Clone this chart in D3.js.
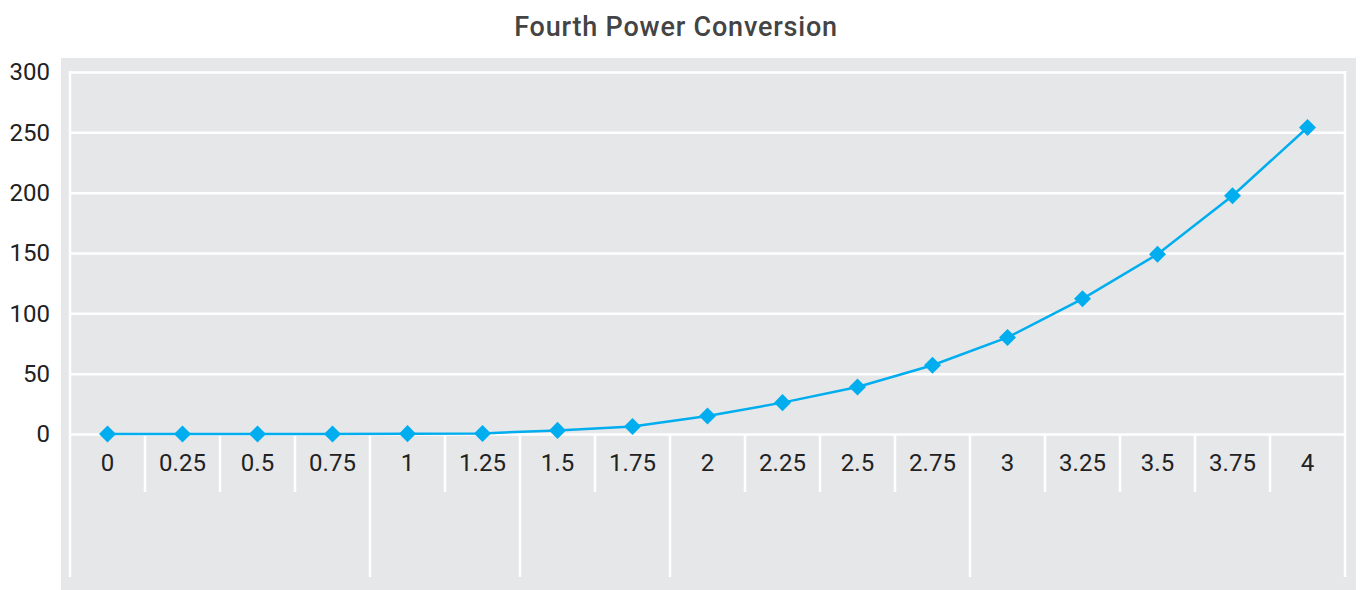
<!DOCTYPE html>
<html>
<head>
<meta charset="utf-8">
<script src="https://cdn.jsdelivr.net/npm/d3@7"></script>
<style>
  body { margin: 0; background: #fff; }
  text { font-family: Roboto, "Noto Sans", sans-serif; }
</style>
</head>
<body>
<div id="chart"></div>
<script>
// Chart values
const categories = ['0', '0.25', '0.5', '0.75', '1', '1.25', '1.5', '1.75', '2',
  '2.25', '2.5', '2.75', '3', '3.25', '3.5', '3.75', '4'];
const values = [0, 0, 0, 0, 0.3, 0.5, 3, 6.3, 15, 26, 39, 57, 80, 112, 149, 197.5, 254];
const yTicks = [0, 50, 100, 150, 200, 250, 300];
// second level category groups (blank labels), given as first category of each group
const groupStarts = ['0', '1', '1.5', '2', '3'];
const title = 'Fourth Power Conversion';

const width = 1360;
const height = 590;
const plot = {left: 70, right: 1345, top: 72, bottom: 434};
const axisRow1 = 492;   // bottom of the first level of the category axis
const axisRow2 = 577;   // bottom of the second level

const BG = '#e6e7e9';
const LINE = '#00aeef';

const svg = d3.select('#chart')
  .append('svg')
  .attr('width', width)
  .attr('height', height);

// title
svg.append('text')
  .attr('x', 676)
  .attr('y', 36)
  .attr('text-anchor', 'middle')
  .attr('font-size', 27)
  .attr('font-weight', 500)
  .attr('letter-spacing', 0.8)
  .attr('fill', '#444')
  .text(title);

// grey chart panel
svg.append('rect')
  .attr('x', 61)
  .attr('y', 58)
  .attr('width', 1295)
  .attr('height', 532)
  .attr('fill', BG);

const x = d3.scaleBand()
  .domain(categories)
  .range([plot.left, plot.right])
  .padding(0);

const y = d3.scaleLinear()
  .domain([0, 300])
  .range([plot.bottom, plot.top]);

// horizontal gridlines + y labels
const yAxis = d3.axisLeft(y)
  .tickValues(yTicks)
  .tickSize(-(plot.right - plot.left))
  .tickPadding(20);

svg.append('g')
  .attr('transform', `translate(${plot.left},0)`)
  .call(yAxis)
  .call(g => g.select('.domain').remove())
  .call(g => g.selectAll('.tick line')
    .attr('stroke', '#fff')
    .attr('stroke-width', 2.5))
  .call(g => g.selectAll('.tick text')
    .attr('font-size', 24)
    .attr('fill', '#222')
    .attr('x', -20)
    .attr('dy', '0.32em'));

// left / right frame of the plot area
svg.append('g')
  .selectAll('line')
  .data([plot.left, plot.right])
  .enter()
  .append('line')
  .attr('x1', d => d)
  .attr('x2', d => d)
  .attr('y1', plot.top - 1)
  .attr('y2', axisRow2)
  .attr('stroke', '#fff')
  .attr('stroke-width', 2.5);

// category separators: long ones where a group starts, short ones otherwise
const inner = categories.slice(1);
svg.append('g')
  .selectAll('line')
  .data(inner)
  .enter()
  .append('line')
  .attr('x1', d => x(d))
  .attr('x2', d => x(d))
  .attr('y1', plot.bottom)
  .attr('y2', d => groupStarts.includes(d) ? axisRow2 : axisRow1)
  .attr('stroke', '#fff')
  .attr('stroke-width', 2.5);

// category labels
svg.append('g')
  .selectAll('text')
  .data(categories)
  .enter()
  .append('text')
  .attr('x', d => x(d) + x.bandwidth() / 2)
  .attr('y', 471)
  .attr('text-anchor', 'middle')
  .attr('font-size', 24)
  .attr('fill', '#222')
  .text(d => d);

// the series
const line = d3.line()
  .x((d, i) => x(categories[i]) + x.bandwidth() / 2)
  .y(d => y(d));

svg.append('path')
  .datum(values)
  .attr('d', line)
  .attr('fill', 'none')
  .attr('stroke', LINE)
  .attr('stroke-width', 2.5);

const diamond = d3.symbol().type(d3.symbolSquare).size(145);

svg.append('g')
  .selectAll('path')
  .data(values)
  .enter()
  .append('path')
  .attr('d', diamond)
  .attr('transform', (d, i) =>
    `translate(${x(categories[i]) + x.bandwidth() / 2},${y(d)}) rotate(45)`)
  .attr('fill', LINE);
</script>
</body>
</html>
